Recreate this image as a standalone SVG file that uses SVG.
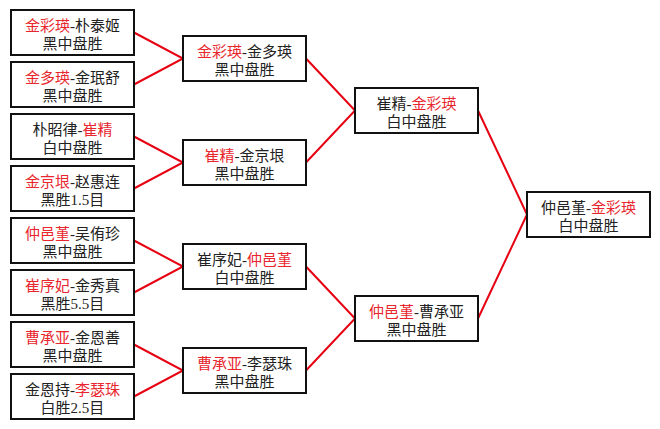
<svg xmlns="http://www.w3.org/2000/svg" width="660" height="429" viewBox="0 0 660 429">
<style>
.box{fill:#fff;stroke:#111;stroke-width:2}
text{font-family:"Liberation Serif","Noto Sans CJK SC",serif;font-size:15px;fill:#222}
.m{text-anchor:middle}
.r{fill:#e8262e}
.c{fill:none;stroke:#e60012;stroke-width:2}
</style>
<rect width="660" height="429" fill="#fff"/>
<g id="connectors">
<path class="c" d="M134,32.5L183,58.5L134,84.5"/>
<path class="c" d="M134,136.5L183,162.5L134,188.5"/>
<path class="c" d="M134,240.5L183,266.5L134,292.5"/>
<path class="c" d="M134,344.5L183,370.5L134,396.5"/>
<path class="c" d="M306,58.5L355,110.5L306,162.5"/>
<path class="c" d="M306,266.5L355,318.5L306,370.5"/>
<path class="c" d="M478,110.5L527,214.5L478,318.5"/>
</g>
<g id="n1"><rect class="box" x="11" y="10" width="123" height="45"/><text class="r" x="25" y="31">金彩瑛</text><text x="70" y="31">-朴泰姬</text><text class="m" x="72.5" y="49">黑中盘胜</text></g>
<g id="n2"><rect class="box" x="11" y="62" width="123" height="45"/><text class="r" x="25" y="83">金多瑛</text><text x="70" y="83">-金珉舒</text><text class="m" x="72.5" y="101">黑中盘胜</text></g>
<g id="n3"><rect class="box" x="11" y="114" width="123" height="45"/><text x="32.5" y="135">朴昭律-</text><text class="r" x="82.5" y="135">崔精</text><text class="m" x="72.5" y="153">白中盘胜</text></g>
<g id="n4"><rect class="box" x="11" y="166" width="123" height="45"/><text class="r" x="25" y="187">金京垠</text><text x="70" y="187">-赵惠连</text><text class="m" x="72.5" y="205">黑胜1.5目</text></g>
<g id="n5"><rect class="box" x="11" y="218" width="123" height="45"/><text class="r" x="25" y="239">仲邑堇</text><text x="70" y="239">-吴侑珍</text><text class="m" x="72.5" y="257">黑中盘胜</text></g>
<g id="n6"><rect class="box" x="11" y="270" width="123" height="45"/><text class="r" x="25" y="291">崔序妃</text><text x="70" y="291">-金秀真</text><text class="m" x="72.5" y="309">黑胜5.5目</text></g>
<g id="n7"><rect class="box" x="11" y="322" width="123" height="45"/><text class="r" x="25" y="343">曹承亚</text><text x="70" y="343">-金恩善</text><text class="m" x="72.5" y="361">黑中盘胜</text></g>
<g id="n8"><rect class="box" x="11" y="374" width="123" height="45"/><text x="25" y="395">金恩持-</text><text class="r" x="75" y="395">李瑟珠</text><text class="m" x="72.5" y="413">白胜2.5目</text></g>
<g id="q1"><rect class="box" x="183" y="36" width="123" height="45"/><text class="r" x="197" y="57">金彩瑛</text><text x="242" y="57">-金多瑛</text><text class="m" x="244.5" y="75">黑中盘胜</text></g>
<g id="q2"><rect class="box" x="183" y="140" width="123" height="45"/><text class="r" x="204.5" y="161">崔精</text><text x="234.5" y="161">-金京垠</text><text class="m" x="244.5" y="179">黑中盘胜</text></g>
<g id="q3"><rect class="box" x="183" y="244" width="123" height="45"/><text x="197" y="265">崔序妃-</text><text class="r" x="247" y="265">仲邑堇</text><text class="m" x="244.5" y="283">白中盘胜</text></g>
<g id="q4"><rect class="box" x="183" y="348" width="123" height="45"/><text class="r" x="197" y="369">曹承亚</text><text x="242" y="369">-李瑟珠</text><text class="m" x="244.5" y="387">黑中盘胜</text></g>
<g id="s1"><rect class="box" x="355" y="88" width="123" height="45"/><text x="376.5" y="109">崔精-</text><text class="r" x="411.5" y="109">金彩瑛</text><text class="m" x="416.5" y="127">白中盘胜</text></g>
<g id="s2"><rect class="box" x="355" y="296" width="123" height="45"/><text class="r" x="369" y="317">仲邑堇</text><text x="414" y="317">-曹承亚</text><text class="m" x="416.5" y="335">黑中盘胜</text></g>
<g id="f"><rect class="box" x="527" y="192" width="123" height="45"/><text x="541" y="213">仲邑堇-</text><text class="r" x="591" y="213">金彩瑛</text><text class="m" x="588.5" y="231">白中盘胜</text></g>
</svg>
